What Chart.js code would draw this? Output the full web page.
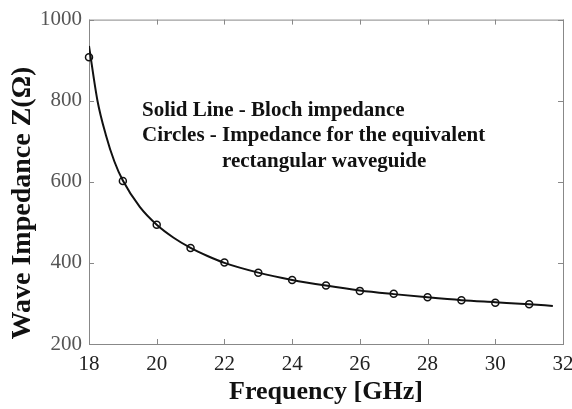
<!DOCTYPE html>
<html>
<head>
<meta charset="utf-8">
<script src="https://cdn.jsdelivr.net/npm/chart.js@4"></script>
<style>
  html, body { margin: 0; padding: 0; background: #fff; }
  #wrap { width: 572px; height: 409px; }
</style>
</head>
<body>
<div id="wrap"><canvas id="zChart" width="572" height="409"></canvas></div>
<script>
// Bloch impedance (solid line)
const lineFreq = [18, 18.25, 18.5, 18.75, 19, 19.5, 20, 20.5, 21, 21.5, 22, 23, 24, 25, 26, 27, 28, 29, 30, 31, 31.7];
const lineZ = [935, 800, 715, 650, 603, 538, 494, 462, 437, 417, 400, 376, 358, 344, 332, 323, 315, 308, 303, 298, 294];

// equivalent rectangular waveguide (circles)
const circFreq = [18, 19, 20, 21, 22, 23, 24, 25, 26, 27, 28, 29, 30, 31];
const circZ = [907, 602, 494, 437, 401, 376, 358, 344, 331, 324, 315, 308, 302, 298];

const xTicks = [18, 20, 22, 24, 26, 28, 30, 32];
const yTicks = [200, 400, 600, 800, 1000];

const yTitle = 'Wave Impedance Z(Ω)';
const noteLines = [
  'Solid Line - Bloch impedance',
  'Circles - Impedance for the equivalent',
  'rectangular waveguide',
];

const serif = '"Liberation Serif", "DejaVu Serif", serif';

// box round the plot, inward tick marks, y title and the note text
const boxPlugin = {
  id: 'box',
  beforeDatasetsDraw(chart) {
    const c = chart.ctx;
    const a = chart.chartArea;
    const xs = chart.scales.x;
    const ys = chart.scales.y;
    c.save();
    c.strokeStyle = '#888';
    c.lineWidth = 1;
    c.strokeRect(a.left + 0.5, a.top + 0.5, a.right - a.left, a.bottom - a.top);
    c.beginPath();
    xTicks.forEach(v => {
      const px = Math.round(xs.getPixelForValue(v)) + 0.5;
      c.moveTo(px, a.bottom); c.lineTo(px, a.bottom - 5);
      c.moveTo(px, a.top); c.lineTo(px, a.top + 5);
    });
    yTicks.forEach(v => {
      const py = Math.round(ys.getPixelForValue(v)) + 0.5;
      c.moveTo(a.left, py); c.lineTo(a.left + 5, py);
      c.moveTo(a.right, py); c.lineTo(a.right - 5, py);
    });
    c.stroke();
    c.restore();
  },
  afterDatasetsDraw(chart) {
    const c = chart.ctx;
    const a = chart.chartArea;
    c.save();
    c.fillStyle = '#111';
    c.textBaseline = 'middle';

    // y axis title, sits a bit below the plot middle like the original
    c.save();
    c.translate(23, 203);
    c.rotate(-Math.PI / 2);
    c.textAlign = 'center';
    c.font = 'bold 28px ' + serif;
    c.fillText(yTitle, 0, 0);
    c.restore();

    c.font = 'bold 21px ' + serif;
    c.fillText(noteLines[0], a.left + 53, a.top + 91);
    c.fillText(noteLines[1], a.left + 53, a.top + 116);
    c.fillText(noteLines[2], a.left + 133, a.top + 142);
    c.restore();
  },
};

const ctx = document.getElementById('zChart');
const zChart = new Chart(ctx, {
  type: 'scatter',
  data: {
    datasets: [
      {
        label: 'Bloch impedance',
        data: lineFreq.map((f, i) => ({ x: f, y: lineZ[i] })),
        showLine: true,
        borderColor: '#111',
        borderWidth: 2,
        pointRadius: 0,
        cubicInterpolationMode: 'monotone',
        fill: false,
        order: 1,
      },
      {
        label: 'Rectangular waveguide',
        data: circFreq.map((f, i) => ({ x: f, y: circZ[i] })),
        showLine: false,
        clip: false,
        pointRadius: 3.5,
        pointBorderWidth: 1.5,
        pointBorderColor: '#111',
        pointBackgroundColor: 'rgba(255,255,255,0)',
        order: 0,
      },
    ],
  },
  plugins: [boxPlugin],
  options: {
    responsive: false,
    animation: false,
    layout: { padding: { left: 0, top: 16, right: 9, bottom: 0 } },
    plugins: {
      legend: { display: false },
      tooltip: { enabled: false },
    },
    scales: {
      x: {
        type: 'linear',
        min: 18,
        max: 32,
        afterBuildTicks: (s) => { s.ticks = xTicks.map(v => ({ value: v })); },
        afterFit: (s) => {
          s.height = 65;
          // let the "32" label hang past the plot edge instead of shrinking it
          s.paddingLeft = 0;
          s.paddingRight = 0;
        },
        grid: { display: false, drawTicks: false },
        border: { display: false },
        ticks: {
          color: '#222',
          padding: 8,
          font: { family: serif, size: 21 },
          callback: (v) => String(v),
        },
        title: {
          display: true,
          text: 'Frequency [GHz]',
          color: '#111',
          padding: { top: 0, bottom: 1 },
          font: { family: serif, size: 26, weight: 'bold' },
        },
      },
      y: {
        type: 'linear',
        min: 200,
        max: 1000,
        afterBuildTicks: (s) => { s.ticks = yTicks.map(v => ({ value: v })); },
        afterFit: (s) => { s.width = 89; },
        grid: { display: false, drawTicks: false },
        border: { display: false },
        ticks: {
          color: '#555',
          padding: 7,
          font: { family: serif, size: 21 },
          callback: (v) => String(v),
        },
        title: { display: false },
      },
    },
  },
});
</script>
</body>
</html>
